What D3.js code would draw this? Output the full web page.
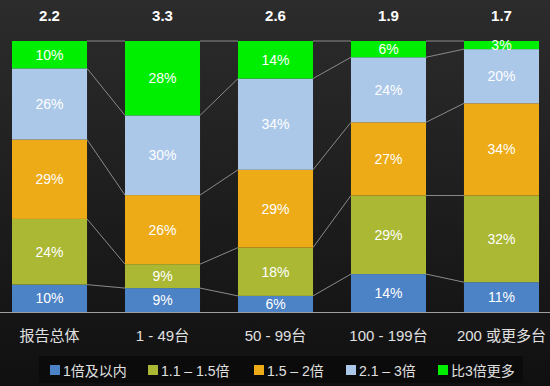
<!DOCTYPE html>
<html>
<head>
<meta charset="utf-8">
<script src="https://cdn.jsdelivr.net/npm/d3@7"></script>
<style>
  body { margin: 0; background: #111; }
  svg { display: block; }
</style>
</head>
<body>
<div id="chart"></div>
<script>
// data
var categories = ["报告总体", "1 - 49台", "50 - 99台", "100 - 199台", "200 或更多台"];
var averages = ["2.2", "3.3", "2.6", "1.9", "1.7"];
var seriesNames = ["1倍及以内", "1.1 – 1.5倍", "1.5 – 2倍", "2.1 – 3倍", "比3倍更多"];
var s1 = [10, 9, 6, 14, 11];
var s2 = [24, 9, 18, 29, 32];
var s3 = [29, 26, 29, 27, 34];
var s4 = [26, 30, 34, 24, 20];
var s5 = [10, 28, 14, 6, 3];
var colors = ["#4c82c6", "#aab834", "#edab17", "#abc8e9", "#00ee00"];

var w = 550,
	h = 386;

var svg = d3.select("#chart").append("svg")
	.attr("width", w)
	.attr("height", h);

// background
var defs = svg.append("defs");
var grad = defs.append("linearGradient")
	.attr("id", "bg")
	.attr("x1", 0).attr("y1", 0).attr("x2", 0).attr("y2", 1);
grad.append("stop").attr("offset", "0%").attr("stop-color", "#2c2c2c");
grad.append("stop").attr("offset", "80%").attr("stop-color", "#161616");
grad.append("stop").attr("offset", "100%").attr("stop-color", "#101010");
svg.append("rect").attr("width", w).attr("height", h).attr("fill", "url(#bg)");

var x = d3.scaleBand()
	.domain(categories)
	.range([12, 539])
	.paddingInner(0.336)
	.paddingOuter(0);

var y = d3.scaleLinear()
	.domain([0, 100])
	.range([312, 41]);

// build normalized stacks
var series = [s1, s2, s3, s4, s5];
var stacks = categories.map(function(c, i){
	var total = d3.sum(series, function(s){ return s[i]; });
	var acc = 0, segs = [];
	series.forEach(function(s, k){
		var v = s[i] / total * 100;
		segs.push({cat: c, k: k, raw: s[i], y0: acc, y1: acc + v});
		acc += v;
	});
	return segs;
});

var font = "'Liberation Sans', 'Noto Sans CJK SC', sans-serif";

// connector lines
var bw = x.bandwidth();
for (var i = 0; i < categories.length - 1; i++) {
	for (var k = 1; k <= series.length; k++) {
		var ya = k < series.length ? stacks[i][k].y0 : 100;
		var yb = k < series.length ? stacks[i+1][k].y0 : 100;
		svg.append("line")
			.attr("x1", x(categories[i]) + bw)
			.attr("y1", y(ya))
			.attr("x2", x(categories[i+1]))
			.attr("y2", y(yb))
			.attr("stroke", "#8a8a8a")
			.attr("stroke-width", 1);
	}
}

// bars
var g = svg.append("g");
stacks.forEach(function(segs){
	g.selectAll(null)
		.data(segs)
		.enter()
		.append("rect")
		.attr("x", function(d){ return x(d.cat); })
		.attr("y", function(d){ return y(d.y1); })
		.attr("width", bw)
		.attr("height", function(d){ return y(d.y0) - y(d.y1); })
		.attr("fill", function(d){ return colors[d.k]; });

	g.selectAll(null)
		.data(segs)
		.enter()
		.append("text")
		.attr("x", function(d){ return x(d.cat) + bw / 2; })
		.attr("y", function(d){ return (y(d.y0) + y(d.y1)) / 2 + 5; })
		.attr("text-anchor", "middle")
		.attr("font-family", font)
		.attr("font-size", "14px")
		.attr("fill", "#fff")
		.text(function(d){ return d.raw + "%"; });
});

// axis line
svg.append("line")
	.attr("x1", 0).attr("x2", w)
	.attr("y1", 312.5).attr("y2", 312.5)
	.attr("stroke", "#a0a0a0")
	.attr("stroke-width", 1.2);

// averages on top
svg.selectAll(".avg")
	.data(averages)
	.enter()
	.append("text")
	.attr("class", "avg")
	.attr("x", function(d, i){ return x(categories[i]) + bw / 2; })
	.attr("y", 21)
	.attr("text-anchor", "middle")
	.attr("font-family", font)
	.attr("font-size", "15px")
	.attr("font-weight", "bold")
	.attr("fill", "#fff")
	.text(function(d){ return d; });

// category labels
svg.selectAll(".cat")
	.data(categories)
	.enter()
	.append("text")
	.attr("class", "cat")
	.attr("x", function(d){ return x(d) + bw / 2; })
	.attr("y", 341)
	.attr("text-anchor", "middle")
	.attr("font-family", font)
	.attr("font-size", "15px")
	.attr("fill", "#e0e0e0")
	.text(function(d){ return d; });

// legend
var legend = svg.append("g").attr("class", "legend");
legend.append("rect")
	.attr("x", 39).attr("y", 356)
	.attr("width", 484).attr("height", 27)
	.attr("fill", "#0b0b0b");
var legX = [50, 148, 254, 346, 438];
legend.selectAll("rect.sw")
	.data(seriesNames)
	.enter()
	.append("rect")
	.attr("class", "sw")
	.attr("x", function(d, i){ return legX[i]; })
	.attr("y", 365)
	.attr("width", 10)
	.attr("height", 10)
	.attr("fill", function(d, i){ return colors[i]; });
legend.selectAll("text")
	.data(seriesNames)
	.enter()
	.append("text")
	.attr("x", function(d, i){ return legX[i] + 13; })
	.attr("y", 376)
	.attr("font-family", font)
	.attr("font-size", "14px")
	.attr("fill", "#e0e0e0")
	.text(function(d){ return d; });
</script>
</body>
</html>
